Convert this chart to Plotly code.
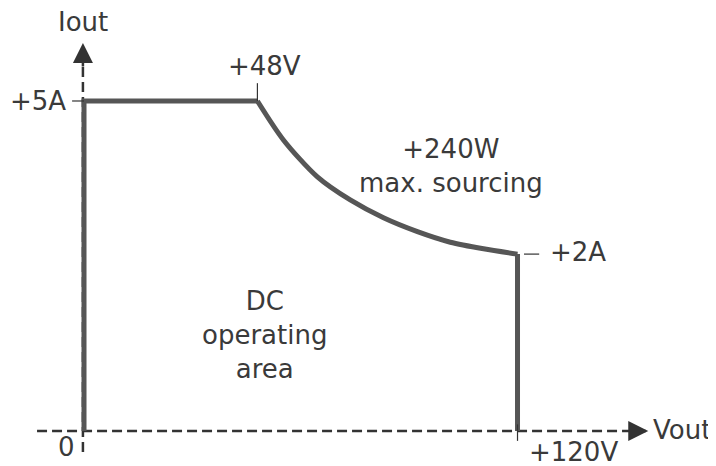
import plotly.graph_objects as go

# ---- data (Vout in volts, Iout in amps, as drawn) ----
cc_volts = [0, 0, 48]
cc_amps = [0, 5, 5]
curve_volts = [48, 55.2, 64.6, 73.7, 82.9, 92.3, 101.4, 110.6, 120]
curve_amps = [5.0, 4.41, 3.85, 3.50, 3.23, 3.02, 2.86, 2.76, 2.68]
cv_volts = [120, 120]
cv_amps = [2.68, 0]

v_max = 120
i_max = 5
v_knee = 48
i_end = 2.68

tick_labels = {"i_max": "+5A", "v_knee": "+48V", "i_end": "+2A", "v_max": "+120V", "zero": "0"}
power_text = "+240W<br>max. sourcing"
area_text = "DC<br>operating<br>area"
x_title = "Vout"
y_title = "Iout"

# ---- styles ----
LINE_C = "#565656"
AXIS_C = "#333333"
TEXT_C = "#3a3a3a"
FONT = "DejaVu Sans"
FS = 26
DASH = "10px,5px"

fig = go.Figure()

# axes (dashed)
fig.add_trace(go.Scatter(x=[-13, 155.5], y=[0, 0], mode="lines",
                         line=dict(color=AXIS_C, width=2.5, dash=DASH), hoverinfo="skip"))
fig.add_trace(go.Scatter(x=[-0.3, -0.3], y=[-0.32, 5.6], mode="lines",
                         line=dict(color=AXIS_C, width=2.5, dash=DASH), hoverinfo="skip"))

# operating boundary
fig.add_trace(go.Scatter(x=cc_volts, y=cc_amps, mode="lines",
                         line=dict(color=LINE_C, width=5), hoverinfo="skip"))
fig.add_trace(go.Scatter(x=curve_volts, y=curve_amps, mode="lines",
                         line=dict(color=LINE_C, width=5, shape="spline", smoothing=0.8), hoverinfo="skip"))
fig.add_trace(go.Scatter(x=cv_volts, y=cv_amps, mode="lines",
                         line=dict(color=LINE_C, width=5), hoverinfo="skip"))

# thin ticks
tick_style = dict(color=AXIS_C, width=1.2)
fig.add_trace(go.Scatter(x=[-3.3, 0], y=[i_max, i_max], mode="lines", line=tick_style, hoverinfo="skip"))
fig.add_trace(go.Scatter(x=[v_knee, v_knee], y=[i_max, 5.27], mode="lines", line=tick_style, hoverinfo="skip"))
fig.add_trace(go.Scatter(x=[121.8, 126], y=[i_end, i_end], mode="lines", line=tick_style, hoverinfo="skip"))
fig.add_trace(go.Scatter(x=[v_max, v_max], y=[0.1, -0.15], mode="lines", line=tick_style, hoverinfo="skip"))

font = dict(family=FONT, size=FS, color=TEXT_C)
ann = []
# arrowheads
ann.append(dict(x=156.2, y=0, ax=150.5, ay=0, xref="x", yref="y", axref="x", ayref="y",
                showarrow=True, arrowhead=2, arrowsize=1.6, arrowwidth=2.5, arrowcolor=AXIS_C, text=""))
ann.append(dict(x=-0.3, y=5.88, ax=-0.3, ay=5.5, xref="x", yref="y", axref="x", ayref="y",
                showarrow=True, arrowhead=2, arrowsize=1.6, arrowwidth=2.5, arrowcolor=AXIS_C, text=""))
# labels
ann.append(dict(x=-4.4, y=i_max, text=tick_labels["i_max"], xanchor="right", yanchor="middle"))
ann.append(dict(x=50.1, y=5.53, text=tick_labels["v_knee"], xanchor="center", yanchor="middle"))
ann.append(dict(x=128.4, y=2.71, text=tick_labels["i_end"], xanchor="left", yanchor="middle"))
ann.append(dict(x=122.6, y=-0.32, text=tick_labels["v_max"], xanchor="left", yanchor="middle"))
ann.append(dict(x=-2.0, y=-0.24, text=tick_labels["zero"], xanchor="right", yanchor="middle"))
ann.append(dict(x=-0.3, y=6.2, text=y_title, xanchor="center", yanchor="middle"))
ann.append(dict(x=156.9, y=0.02, text=x_title, xanchor="left", yanchor="middle"))
ann.append(dict(x=101.6, y=4.01, text=power_text, xanchor="center", yanchor="middle"))
ann.append(dict(x=50.1, y=1.45, text=area_text, xanchor="center", yanchor="middle"))
for a in ann:
    a.setdefault("showarrow", False)
    a.setdefault("xref", "x")
    a.setdefault("yref", "y")
    a["font"] = font
fig.update_layout(annotations=ann)

# page has an 8px body margin, so ranges are shifted to align with the window
fig.update_layout(
    width=716, height=466,
    margin=dict(l=0, r=0, t=0, b=0),
    paper_bgcolor="white", plot_bgcolor="white",
    showlegend=False,
    xaxis=dict(range=[-21.04, 177.16], visible=False, fixedrange=True),
    yaxis=dict(range=[-0.652, 6.409], visible=False, fixedrange=True),
)

fig.write_html("out.html")
